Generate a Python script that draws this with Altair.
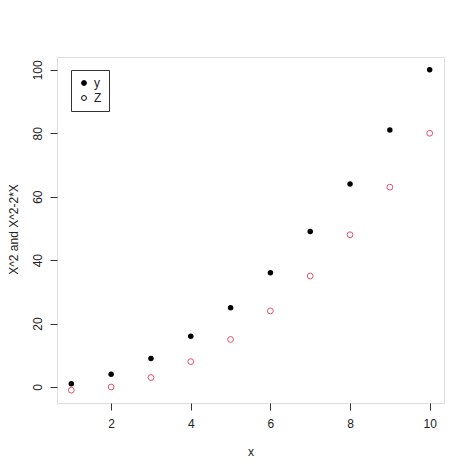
import altair as alt
import pandas as pd

xs = [1, 2, 3, 4, 5, 6, 7, 8, 9, 10]
y_vals = [1, 4, 9, 16, 25, 36, 49, 64, 81, 100]
z_vals = [-1, 0, 3, 8, 15, 24, 35, 48, 63, 80]
x_ticks = [2, 4, 6, 8, 10]
y_ticks = [0, 20, 40, 60, 80, 100]

df_y = pd.DataFrame({"x": xs, "v": y_vals, "series": "y"})
df_z = pd.DataFrame({"x": xs, "v": z_vals, "series": "Z"})

FONT = "Liberation Sans"
AX = "#333333"

xenc = alt.X("x:Q", scale=alt.Scale(domain=[0.64, 10.36], nice=False, zero=False),
             axis=alt.Axis(values=x_ticks, title="x", grid=False, domain=False,
                           tickColor=AX, tickSize=7, labelPadding=8,
                           labelFontSize=12, labelFont=FONT, labelColor="#222",
                           titleFontSize=12, titleFont=FONT, titleFontWeight="normal",
                           titleColor="#222", titlePadding=17))
yenc = alt.Y("v:Q", scale=alt.Scale(domain=[-5.04, 104.04], nice=False, zero=False),
             axis=alt.Axis(values=y_ticks, title="X^2 and X^2-2*X", grid=False, domain=False,
                           tickColor=AX, tickSize=7, labelPadding=6, labelAngle=270,
                           labelAlign="center", labelBaseline="bottom",
                           labelFontSize=12, labelFont=FONT, labelColor="#222",
                           titleFontSize=12, titleFont=FONT, titleFontWeight="normal",
                           titleColor="#222", titleAngle=270, titleX=-44, titleY=172,
                           titleAlign="center", titleBaseline="middle"))

pts_y = alt.Chart(df_y).mark_point(filled=True, size=30, opacity=1).encode(
    x=xenc, y=yenc,
    fill=alt.Fill("series:N",
                  scale=alt.Scale(domain=["y", "Z"], range=["black", "white"]),
                  legend=alt.Legend(title=None, orient="none", legendX=14, legendY=13,
                                    strokeColor="#333", padding=7, symbolSize=24,
                                    symbolStrokeColor="black", symbolStrokeWidth=1,
                                    symbolType="circle", labelFontSize=12, labelFont=FONT,
                                    labelColor="#222", rowPadding=3, labelOffset=4,
                                    fillColor="white")),
)

pts_z = alt.Chart(df_z).mark_point(filled=False, size=34, color="#DF536B",
                                   strokeWidth=1, opacity=1).encode(x=xenc, y=yenc)

chart = alt.layer(pts_y, pts_z).properties(
    width=387, height=346,
    padding={"left": 49, "top": 49, "right": 22, "bottom": 63},
    autosize=alt.AutoSizeParams(type="none"),
).configure_view(stroke=AX, strokeWidth=1).configure(background="white")

chart.save("out.html", embed_options={"renderer": "svg", "actions": False})
